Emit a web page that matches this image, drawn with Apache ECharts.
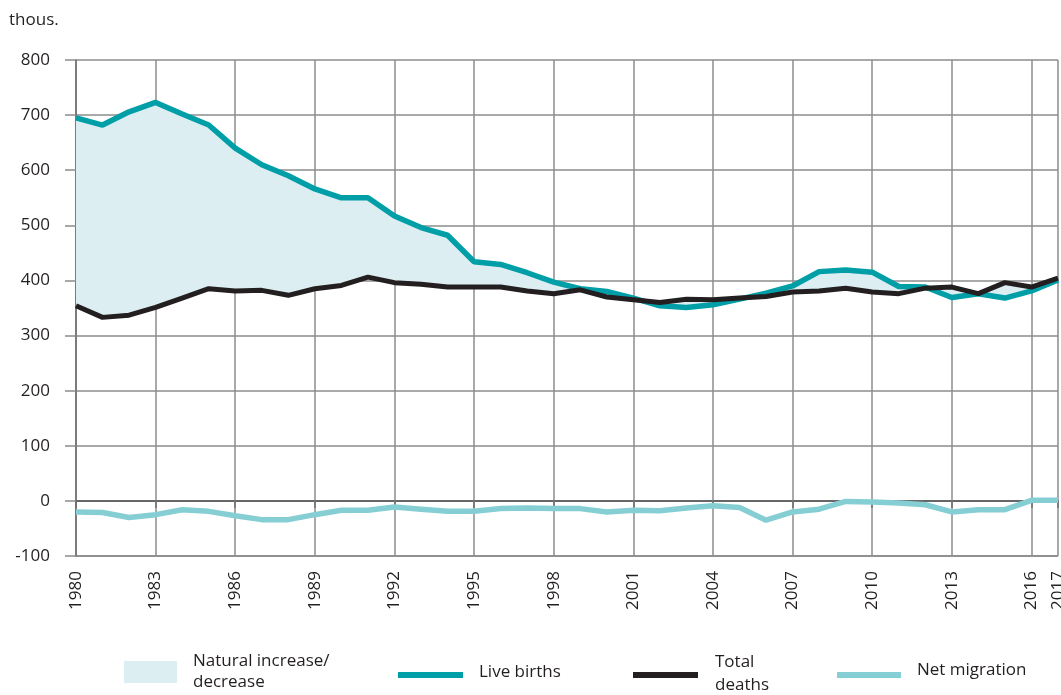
<!DOCTYPE html>
<html>
<head>
<meta charset="utf-8">
<script src="https://cdn.jsdelivr.net/npm/echarts@6/dist/echarts.min.js"></script>
<style>
  html, body { margin: 0; padding: 0; background: #fff; }
  #chart { width: 1061px; height: 695px; }
</style>
</head>
<body>
<div id="chart"></div>
<script>
const years = [];
for (let y = 1980; y <= 2017; y++) years.push(String(y));

// thousands
const liveBirths = [
  695, 682, 706, 723, 702, 682, 640, 610, 590, 566,
  550, 550, 517, 496, 482, 434, 429, 414, 397, 385,
  380, 368, 354, 351, 356, 366, 377, 390, 416, 419,
  415, 389, 388, 369, 376, 368, 381, 401
];
const totalDeaths = [
  354, 333, 337, 351, 368, 385, 381, 382, 373, 385,
  391, 406, 396, 393, 388, 388, 388, 381, 376, 383,
  370, 365, 360, 366, 365, 368, 371, 379, 381, 386,
  379, 376, 386, 388, 376, 396, 388, 404
];
const netMigration = [
  -20, -21, -30, -25, -16, -19, -27, -34, -34, -25,
  -17, -17, -11, -15, -19, -19, -14, -13, -14, -14,
  -20, -17, -18, -13, -9, -12, -35, -20, -15, -1,
  -2, -4, -7, -20, -16, -16, 1, 1
];
const yTicks = { min: -100, max: 800, step: 100 };

// band between the two curves (natural increase / decrease)
const bandBase = liveBirths.map((b, i) => Math.min(b, totalDeaths[i]));
const bandSize = liveBirths.map((b, i) => Math.abs(b - totalDeaths[i]));

const font = '"Open Sans", "Noto Sans", sans-serif';
const txt = '#231f20';
const gridGray = '#8c8c8c';

const showYear = (i) => i % 3 === 0 || i === years.length - 1;

const chart = echarts.init(document.getElementById('chart'), null, { renderer: 'canvas' });

const option = {
  backgroundColor: '#fff',
  animation: false,
  grid: { left: 76, right: 3, top: 60, bottom: 139, containLabel: false, outerBoundsMode: 'none' },
  xAxis: {
    type: 'category',
    data: years,
    boundaryGap: false,
    axisLine: { lineStyle: { color: '#6d6d6d', width: 1.5 } },
    axisTick: { show: true, interval: showYear, length: 7, lineStyle: { color: '#6d6d6d', width: 1.5 } },
    axisLabel: {
      interval: showYear,
      rotate: 90,
      margin: 15,
      fontFamily: font,
      fontSize: 17,
      color: txt,
      hideOverlap: false
    },
    splitLine: { show: true, interval: showYear, lineStyle: { color: gridGray, width: 1.5 } }
  },
  yAxis: {
    type: 'value',
    min: yTicks.min,
    max: yTicks.max,
    interval: yTicks.step,
    axisLine: { show: true, lineStyle: { color: '#6d6d6d', width: 1.5 } },
    axisTick: { show: true, length: 11, lineStyle: { color: gridGray, width: 1.5 } },
    axisLabel: { margin: 26, fontFamily: font, fontSize: 17, color: txt },
    splitLine: {
      lineStyle: {
        color: ['#6d6d6d', '#231f20', gridGray, gridGray, gridGray, gridGray, gridGray, gridGray, gridGray, gridGray],
        width: 1.5
      }
    }
  },
  series: [
    {
      name: 'base',
      type: 'line',
      stack: 'nat',
      data: bandBase,
      symbol: 'none',
      lineStyle: { width: 0, opacity: 0 },
      silent: true,
      z: 1
    },
    {
      name: 'Natural increase/decrease',
      type: 'line',
      stack: 'nat',
      data: bandSize,
      symbol: 'none',
      lineStyle: { width: 0, opacity: 0 },
      areaStyle: { color: '#dceef2', opacity: 1 },
      silent: true,
      z: 1
    },
    {
      name: 'Net migration',
      type: 'line',
      data: netMigration,
      symbol: 'none',
      lineStyle: { color: '#85cfd4', width: 5.5 },
      z: 3
    },
    {
      name: 'Live births',
      type: 'line',
      data: liveBirths,
      symbol: 'none',
      lineStyle: { color: '#009fa8', width: 5.5 },
      z: 3
    },
    {
      name: 'Total deaths',
      type: 'line',
      data: totalDeaths,
      symbol: 'none',
      lineStyle: { color: '#231f20', width: 5 },
      z: 4
    }
  ],
  graphic: [
    { type: 'text', left: 9, top: 12, style: { text: 'thous.', font: '17px ' + font, fill: txt } },
    // legend
    { type: 'rect', shape: { x: 124, y: 661, width: 53, height: 22 }, style: { fill: '#dceef2' } },
    { type: 'text', left: 193, top: 651, style: { text: 'Natural increase/\ndecrease', font: '17px ' + font, fill: txt, lineHeight: 21 } },
    { type: 'rect', shape: { x: 398, y: 672, width: 65, height: 6 }, style: { fill: '#009fa8' } },
    { type: 'text', left: 479, top: 664, style: { text: 'Live births', font: '17px ' + font, fill: txt } },
    { type: 'rect', shape: { x: 633, y: 672, width: 65, height: 6 }, style: { fill: '#231f20' } },
    { type: 'text', left: 715, top: 651, style: { text: 'Total\ndeaths', font: '17px ' + font, fill: txt, lineHeight: 23 } },
    { type: 'rect', shape: { x: 837, y: 672, width: 64, height: 6 }, style: { fill: '#85cfd4' } },
    { type: 'text', left: 917, top: 662, style: { text: 'Net migration', font: '17px ' + font, fill: txt } }
  ]
};

chart.setOption(option);
</script>
</body>
</html>
